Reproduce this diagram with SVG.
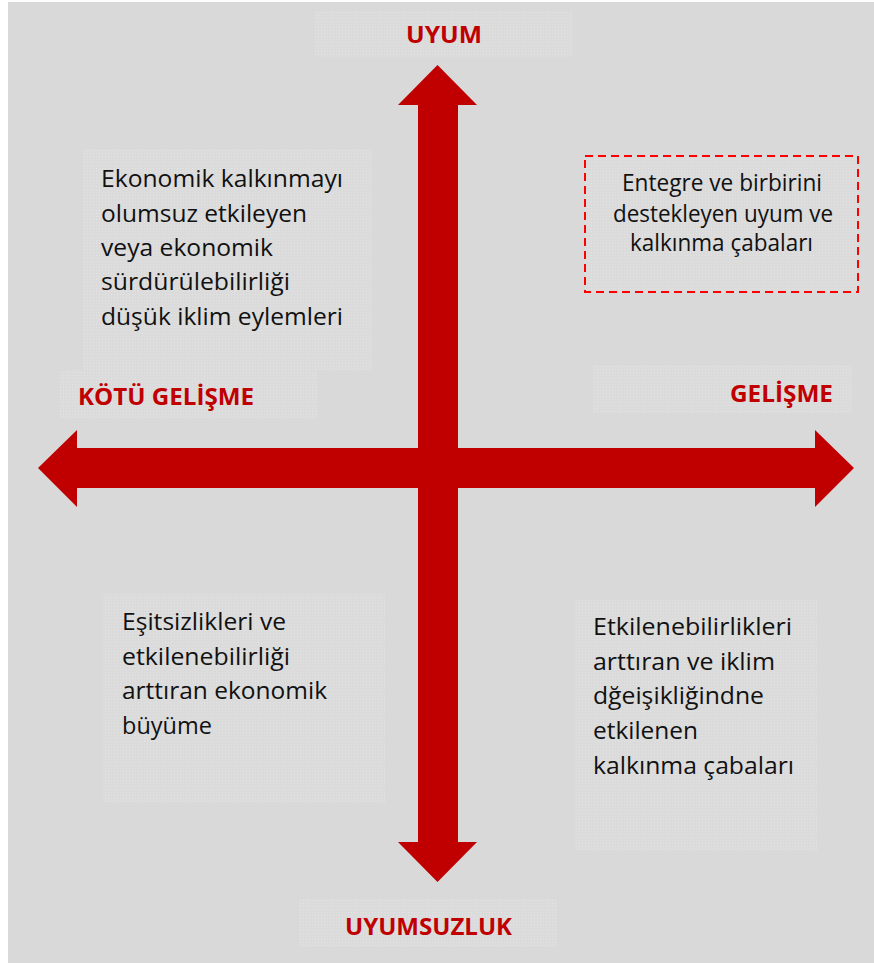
<svg xmlns="http://www.w3.org/2000/svg" width="874" height="963" viewBox="0 0 874 963">
<defs>
<pattern id="tex" width="3" height="3" patternUnits="userSpaceOnUse">
<rect width="3" height="3" fill="#dbdbdb"/>
<rect x="0" y="0" width="1" height="1" fill="#e3e3e3"/>
</pattern>
<style>
.box{fill:url(#tex);}
.lbl{font-family:"Open Sans","Liberation Sans",sans-serif;font-weight:bold;font-size:22.5px;fill:#c00000;}
.txt{font-family:"Open Sans","Liberation Sans",sans-serif;font-size:23px;fill:#111111;}
.arrow{fill:#c00000;}
</style>
</defs>
<rect x="0" y="0" width="874" height="963" fill="#ffffff"/>
<rect x="8" y="2" width="866" height="961" fill="#d9d9d9"/>

<g id="connectors">
<polygon class="arrow" points="437.5,65 477,105 458,105 458,842 477,842 437.5,882 398,842 418,842 418,105 398,105"/>
<polygon class="arrow" points="38,468 77,430 77,448 815,448 815,430 854,468 815,507 815,488 77,488 77,507"/>
</g>

<g id="uyum">
<rect class="box" x="315" y="11" width="258" height="46"/>
<text class="lbl" x="406" y="43" textLength="76" lengthAdjust="spacingAndGlyphs">UYUM</text>
</g>

<g id="kotu-gelisme">
<rect class="box" x="60" y="370" width="258" height="48"/>
<text class="lbl" x="78" y="405" textLength="176" lengthAdjust="spacingAndGlyphs">KÖTÜ GELİŞME</text>
</g>

<g id="gelisme">
<rect class="box" x="593" y="365" width="259" height="48"/>
<text class="lbl" x="730" y="402" textLength="103" lengthAdjust="spacingAndGlyphs">GELİŞME</text>
</g>

<g id="uyumsuzluk">
<rect class="box" x="299" y="899" width="258" height="48"/>
<text class="lbl" x="345" y="935" textLength="167" lengthAdjust="spacingAndGlyphs">UYUMSUZLUK</text>
</g>

<g id="top-left">
<rect class="box" x="83" y="149" width="289" height="221"/>
<text class="txt" x="101" y="187" textLength="242" lengthAdjust="spacingAndGlyphs">Ekonomik kalkınmayı</text>
<text class="txt" x="101" y="221.5" textLength="206" lengthAdjust="spacingAndGlyphs">olumsuz etkileyen</text>
<text class="txt" x="101" y="256" textLength="172" lengthAdjust="spacingAndGlyphs">veya ekonomik</text>
<text class="txt" x="101" y="290" textLength="189" lengthAdjust="spacingAndGlyphs">sürdürülebilirliği</text>
<text class="txt" x="101" y="324.5" textLength="242" lengthAdjust="spacingAndGlyphs">düşük iklim eylemleri</text>
</g>

<g id="top-right">
<rect class="box" x="585" y="156" width="273" height="136" stroke="#ff0000" stroke-width="2" stroke-dasharray="8,5"/>
<text class="txt" x="622" y="191" textLength="200" lengthAdjust="spacingAndGlyphs">Entegre ve birbirini</text>
<text class="txt" x="613" y="221.5" textLength="220" lengthAdjust="spacingAndGlyphs">destekleyen  uyum ve</text>
<text class="txt" x="630" y="251" textLength="183" lengthAdjust="spacingAndGlyphs">kalkınma çabaları</text>
</g>

<g id="bottom-left">
<rect class="box" x="103" y="594" width="282" height="208"/>
<text class="txt" x="122" y="630" textLength="164" lengthAdjust="spacingAndGlyphs">Eşitsizlikleri ve</text>
<text class="txt" x="122" y="665" textLength="168" lengthAdjust="spacingAndGlyphs">etkilenebilirliği</text>
<text class="txt" x="122" y="699" textLength="205" lengthAdjust="spacingAndGlyphs">arttıran ekonomik</text>
<text class="txt" x="122" y="734" textLength="90" lengthAdjust="spacingAndGlyphs">büyüme</text>
</g>

<g id="bottom-right">
<rect class="box" x="575" y="600" width="242" height="250"/>
<text class="txt" x="593" y="635" textLength="199" lengthAdjust="spacingAndGlyphs">Etkilenebilirlikleri</text>
<text class="txt" x="593" y="669.5" textLength="182" lengthAdjust="spacingAndGlyphs">arttıran ve iklim</text>
<text class="txt" x="593" y="704" textLength="171" lengthAdjust="spacingAndGlyphs">dğeişikliğindne</text>
<text class="txt" x="593" y="738.5" textLength="105" lengthAdjust="spacingAndGlyphs">etkilenen</text>
<text class="txt" x="593" y="773.5" textLength="201" lengthAdjust="spacingAndGlyphs">kalkınma çabaları</text>
</g>
</svg>
